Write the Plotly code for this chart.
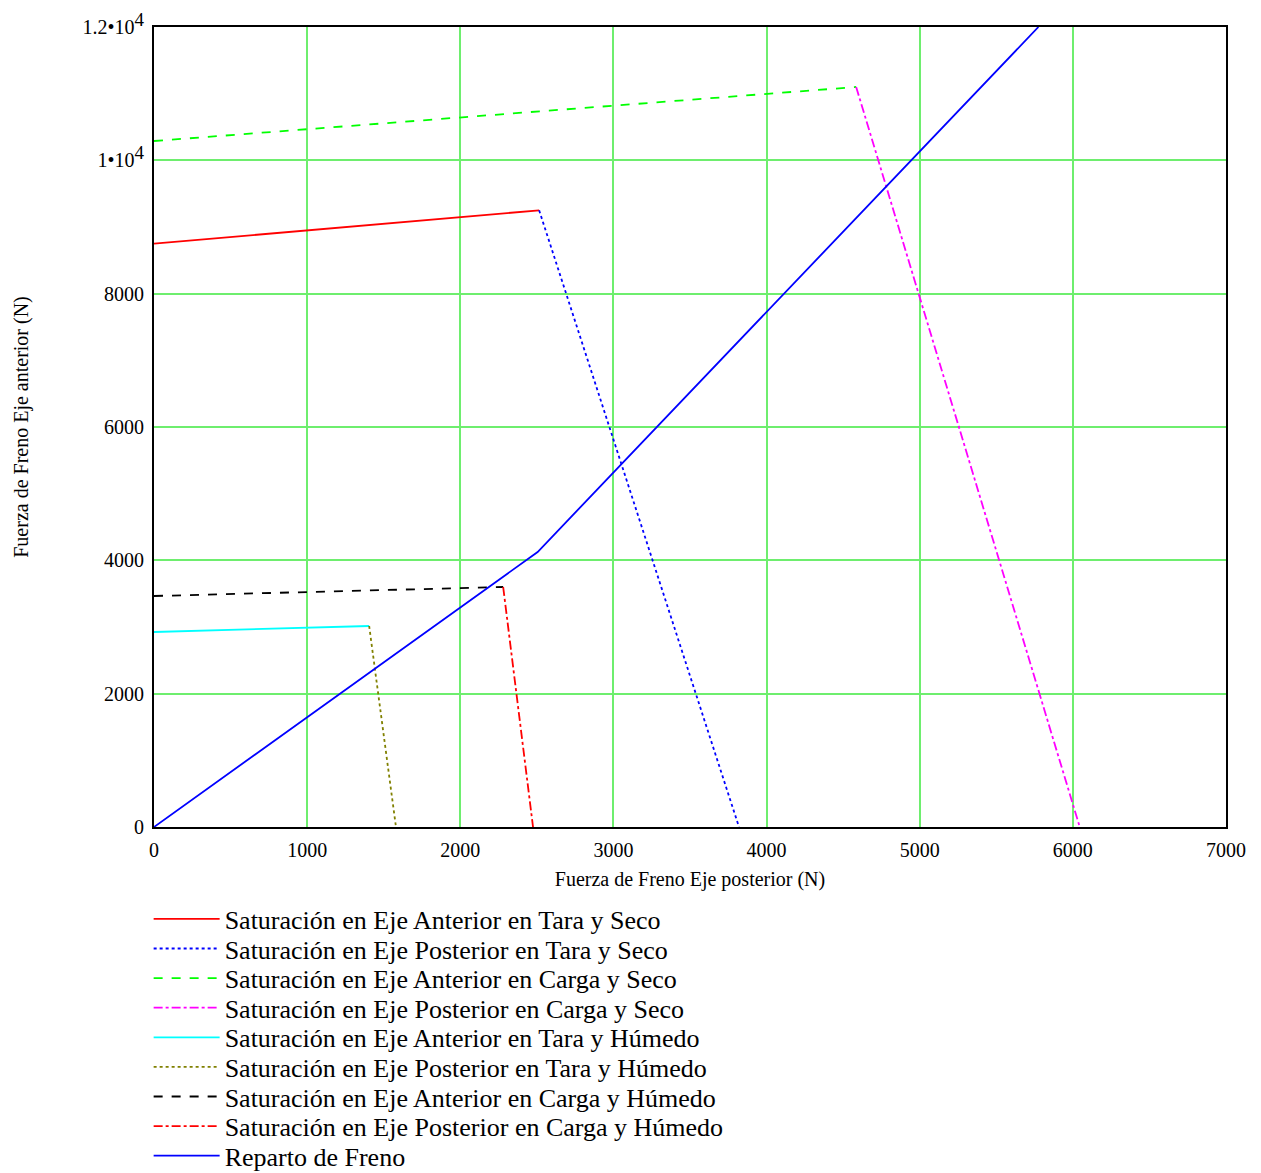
import plotly.graph_objects as go

# ---- data ----
x_ant_tara_seco = [0, 2515]
y_ant_tara_seco = [8750, 9250]
x_post_tara_seco = [2515, 3820]
y_post_tara_seco = [9250, 0]

x_ant_carga_seco = [0, 4585]
y_ant_carga_seco = [10290, 11100]
x_post_carga_seco = [4585, 6045]
y_post_carga_seco = [11100, 0]

x_ant_tara_hum = [0, 1405]
y_ant_tara_hum = [2925, 3015]
x_post_tara_hum = [1405, 1580]
y_post_tara_hum = [3015, 0]

x_ant_carga_hum = [0, 2280]
y_ant_carga_hum = [3465, 3600]
x_post_carga_hum = [2280, 2475]
y_post_carga_hum = [3600, 0]

x_reparto = [0, 2505, 5775]
y_reparto = [0, 4125, 12000]

x_ticks = [0, 1000, 2000, 3000, 4000, 5000, 6000, 7000]
y_ticks = [0, 2000, 4000, 6000, 8000, 10000, 12000]
SUP = "<sup><span style='font-size:19px'>4</span></sup>"
y_ticktext = ["0", "2000", "4000", "6000", "8000", "1•10" + SUP, "1.2•10" + SUP]

series = [
    ("Saturación en Eje Anterior en Tara y Seco", x_ant_tara_seco, y_ant_tara_seco, "#FF0000", "solid"),
    ("Saturación en Eje Posterior en Tara y Seco", x_post_tara_seco, y_post_tara_seco, "#0000FF", "dot"),
    ("Saturación en Eje Anterior en Carga y Seco", x_ant_carga_seco, y_ant_carga_seco, "#00FF00", "dash"),
    ("Saturación en Eje Posterior en Carga y Seco", x_post_carga_seco, y_post_carga_seco, "#FF00FF", "dashdot"),
    ("Saturación en Eje Anterior en Tara y Húmedo", x_ant_tara_hum, y_ant_tara_hum, "#00FFFF", "solid"),
    ("Saturación en Eje Posterior en Tara y Húmedo", x_post_tara_hum, y_post_tara_hum, "#808000", "dot"),
    ("Saturación en Eje Anterior en Carga y Húmedo", x_ant_carga_hum, y_ant_carga_hum, "#000000", "dash"),
    ("Saturación en Eje Posterior en Carga y Húmedo", x_post_carga_hum, y_post_carga_hum, "#FF0000", "dashdot"),
    ("Reparto de Freno", x_reparto, y_reparto, "#0000FF", "solid"),
]

FONT = "Liberation Serif, Times New Roman, serif"
fig = go.Figure()

legend_layouts = {}
for i, (name, xs, ys, color, dash) in enumerate(series):
    lname = "legend" if i == 0 else f"legend{i + 1}"
    fig.add_trace(go.Scatter(x=xs, y=ys, mode="lines", name=name, legend=lname,
                             line=dict(color=color, dash=dash, width=1.8)))
    legend_layouts[lname] = dict(
        x=-0.005, y=-0.115 - 0.037 * i, xanchor="left", yanchor="middle",
        font=dict(family=FONT, size=26, color="black"),
        itemwidth=66, bgcolor="rgba(0,0,0,0)", borderwidth=0,
    )

grid_color = "rgb(110,238,110)"
fig.update_xaxes(range=[0, 7000], tickvals=x_ticks, ticks="", showgrid=True,
                 gridcolor=grid_color, gridwidth=1.5, zeroline=False,
                 showline=True, linecolor="black", linewidth=2, mirror=True,
                 ticklabelstandoff=4,
                 tickfont=dict(family=FONT, size=20, color="black"),
                 title=dict(text="Fuerza de Freno Eje posterior (N)",
                            font=dict(family=FONT, size=20, color="black"), standoff=12))
fig.update_yaxes(range=[0, 12000], tickvals=y_ticks, ticktext=y_ticktext, ticks="",
                 showgrid=True, gridcolor=grid_color, gridwidth=1.5, zeroline=False,
                 showline=True, linecolor="black", linewidth=2, mirror=True,
                 ticklabelstandoff=4,
                 tickfont=dict(family=FONT, size=20, color="black"),
                 title=dict(text="Fuerza de Freno Eje anterior (N)",
                            font=dict(family=FONT, size=20, color="black"), standoff=48))

# the page body adds an 8px offset, so the figure is sized to fit the window
fig.update_layout(
    width=1253, height=1165,
    margin=dict(l=146, r=35, t=19, b=346, autoexpand=False),
    plot_bgcolor="white", paper_bgcolor="white",
    font=dict(family=FONT, color="black"),
    showlegend=True,
    **legend_layouts,
)

fig.write_html("out.html")
